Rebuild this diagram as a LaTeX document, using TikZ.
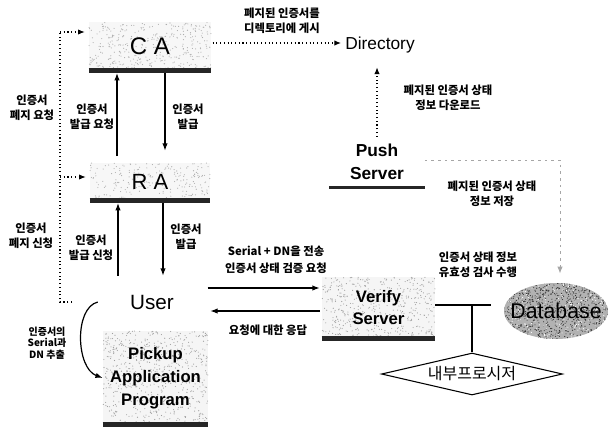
\documentclass[tikz,border=0pt]{standalone}
\usepackage{fontspec}
\setmainfont{Liberation Sans}
\newfontfamily\kr{Noto Sans CJK KR}
\usetikzlibrary{arrows.meta,shapes.geometric,backgrounds,calc}
\newcommand\speck[6]{%
  \foreach \i in {1,...,#5}{\fill[#6] ({#1+rnd*(#3-#1)},{#2+rnd*(#4-#2)}) circle[radius=0.42pt];}}
\tikzset{
  boxnode/.style={inner sep=0pt, align=center},
  barline/.style={line width=3.75pt, black!85},
  lab/.style={font=\kr\bfseries\fontsize{8.5}{11.5}\selectfont, align=center, inner sep=0pt},
  arr/.style={line width=0.9pt, -{Latex[length=5.5pt,width=4pt]}},
  dotl/.style={line width=0.8pt, dotted},
  dotarr/.style={line width=0.8pt, dotted, -{Latex[length=5pt,width=4pt]}},
  dasharr/.style={line width=0.6pt, gray!70, dash pattern=on 2pt off 3pt, -{Latex[length=5pt,width=4pt]}},
  plainline/.style={line width=0.8pt}
}
\begin{document}
\begin{tikzpicture}[x=0.75pt,y=-0.75pt]
\pgfmathsetseed{17}
\useasboundingbox (0,0) rectangle (609,429);

% main nodes
\node[boxnode, minimum width=91.5pt, minimum height=36pt, font=\fontsize{18}{20}\selectfont] (ca) at (150,46) {C A};
\node[boxnode, minimum width=90pt, minimum height=27.75pt, font=\fontsize{16.5}{18}\selectfont] (ra) at (150,181.5) {R A};
\node[boxnode, minimum width=81pt, minimum height=39pt, font=\fontsize{15.5}{17}\selectfont] (user) at (152,302) {User};
\node[boxnode, minimum width=78.75pt, minimum height=69.75pt, font=\bfseries\fontsize{12.5}{17.2}\selectfont] (pickup) at (155.5,378) {Pickup\\Application\\Program};
\node[inner sep=1pt, font=\fontsize{13}{15}\selectfont] (dir) at (380,45) {Directory};
\node[boxnode, minimum width=71.25pt, minimum height=37.5pt, font=\bfseries\fontsize{13}{17}\selectfont] (push) at (377,162) {Push\\Server};
\node[boxnode, minimum width=84.75pt, minimum height=45.75pt, font=\bfseries\fontsize{12.5}{17}\selectfont] (vs) at (378.5,307.5) {Verify\\Server};
\node[ellipse, inner sep=0pt, minimum width=78pt, minimum height=42pt, font=\fontsize{16}{18}\selectfont] (db) at (556,311) {Database};
\node[diamond, draw, line width=0.8pt, inner sep=0pt, shape aspect=4.3, minimum width=135.75pt, minimum height=31.5pt, font=\kr\fontsize{12}{14}\selectfont, fill=white] (dia) at (472,374) {내부프로시저};

% speckled backgrounds
\begin{scope}[on background layer]
  \fill[gray!6] (ca.north west) rectangle (ca.south east);
  \speck{89}{22}{211}{70}{380}{gray!65}
  \fill[gray!6] (ra.north west) rectangle (ra.south east);
  \speck{90}{163}{210}{200}{220}{gray!65}
  \fill[gray!8] (pickup.north west) rectangle (pickup.south east);
  \speck{103}{331}{208}{424}{650}{gray!75}
  \fill[gray!8] (vs.north west) rectangle (vs.south east);
  \speck{322}{277}{435}{338}{480}{gray!75}
  \begin{scope}
    \clip (556,311) ellipse [x radius=52, y radius=28];
    \fill[gray!60] (556,311) ellipse [x radius=52, y radius=28];
    \speck{504}{283}{608}{339}{900}{black!80}
    \speck{504}{283}{608}{339}{250}{white}
  \end{scope}
\end{scope}

% bottom bars
\draw[barline] (ca.south west) -- (ca.south east);
\draw[barline] (ra.south west) -- (ra.south east);
\draw[barline] (pickup.south west) -- (pickup.south east);
\draw[barline] (vs.south west) -- (vs.south east);
\draw[barline, line width=2.6pt] (push.south west) -- (push.south east);

% helper coordinates
\coordinate (xa) at (117,0);
\coordinate (xb) at (165,0);
\coordinate (xc) at (118,0);
\coordinate (xd) at (163,0);
\coordinate (lx) at (60,0);
\coordinate (yca) at (0,32);
\coordinate (yra) at (0,177);
\coordinate (ydir) at (0,43);
\coordinate (ypd) at (0,160);
\coordinate (xv) at (560,0);
\coordinate (yreq) at (0,288);
\coordinate (yres) at (0,311);
\coordinate (yj) at (0,305);
\coordinate (rv) at (72,302);
\coordinate (j) at (472,305);

% CA <-> RA
\draw[arr, shorten <=5pt, shorten >=2pt] (ra.north -| xa) -- (ca.south -| xa);
\draw[arr, shorten <=2pt, shorten >=9pt] (ca.south -| xb) -- (ra.north -| xb);
% RA <-> User
\draw[arr, shorten >=2pt] (user.north -| xc) -- (ra.south -| xc);
\draw[arr, shorten <=2pt] (ra.south -| xd) -- (user.north -| xd);

% revocation dotted
\draw[dotl] (rv) -- (rv -| lx) -- (yca -| lx);
\draw[dotarr, shorten >=3pt] (yca -| lx) -- (ca.west |- yca);
\draw[dotarr, shorten >=3pt] (yra -| lx) -- (ra.west |- yra);

% CA -> Directory, Push -> Directory
\draw[dotarr, shorten <=1pt, shorten >=2pt] (ca.east |- ydir) -- (dir.west |- ydir);
\draw[dotarr, shorten >=9.5pt] (push.north) -- (dir.south -| push.north);
% Push -> Database
\draw[dasharr, shorten >=7pt] (push.east |- ypd) -| (xv |- db.north);

% User <-> Verify
\draw[arr, shorten <=1pt, shorten >=1.5pt] (user.east |- yreq) -- (vs.west |- yreq);
\draw[arr, shorten <=1.5pt, shorten >=3pt] (vs.west |- yres) -- (user.east |- yres);

% Verify -- Database, procedure
\draw[plainline] (vs.east |- yj) -- (db.west |- yj);
\draw[plainline] (j) -- (dia.north);

% User -> Pickup curve
\draw[arr] (user.west) .. controls (74,308) and (76,368) .. (pickup.west);

% labels
\node[lab] (l1) at (32,108) {인증서\\폐지 요청};
\node[lab] (l2) at (31,235.5) {인증서\\폐지 신청};
\node[lab] (l3) at (92,117) {인증서\\발급 요청};
\node[lab] (l4) at (188,117) {인증서\\발급};
\node[lab] (l5) at (91,247.5) {인증서\\발급 신청};
\node[lab] (l6) at (186,236.5) {인증서\\발급};
\node[lab] (l7) at (282,20.5) {폐지된 인증서를\\디렉토리에 게시};
\node[lab] (l8) at (448,98) {폐지된 인증서 상태\\정보 다운로드};
\node[lab] (l9) at (492,194) {폐지된 인증서 상태\\정보 저장};
\node[lab] (l10) at (478,265) {인증서 상태 정보\\유효성 검사 수행};
\node[lab, font=\kr\bfseries\fontsize{8.5}{12.5}\selectfont] (l11) at (276,260) {Serial + DN을 전송\\인증서 상태 검증 요청};
\node[lab] (l12) at (268,330) {요청에 대한 응답};
\node[lab, font=\kr\bfseries\fontsize{7.5}{8.5}\selectfont] (l13) at (47,343) {인증서의\\Serial과\\DN 추출};
\end{tikzpicture}
\end{document}
